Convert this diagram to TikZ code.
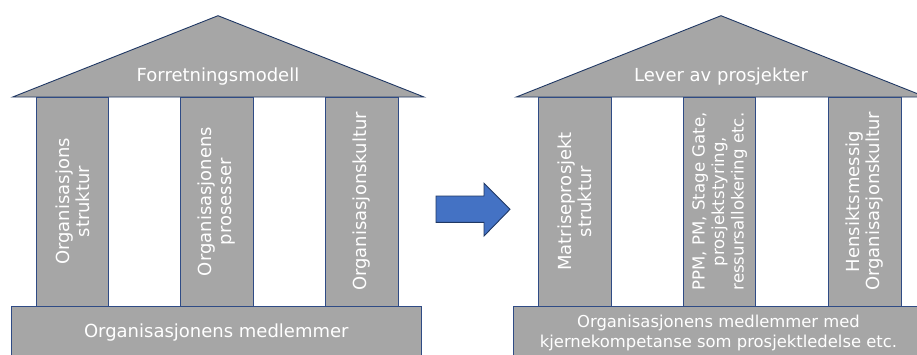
\documentclass[tikz,border=0pt]{standalone}
\usepackage{fontspec}
\setmainfont{DejaVu Sans}
\definecolor{stone}{HTML}{A6A6A6}
\definecolor{edge}{HTML}{2F4B85}
\definecolor{arrowfill}{HTML}{4472C4}
\definecolor{arrowedge}{HTML}{203864}
\begin{document}
\begin{tikzpicture}[x=1pt,y=-1pt,
  part/.style={fill=stone,draw=edge,line width=0.9pt},
  label/.style={text=white,font=\fontsize{18}{20}\selectfont,align=center,inner sep=0pt},
  small/.style={text=white,font=\fontsize{16.4}{20}\selectfont,align=center,inner sep=0pt},
  pillar/.style={part,rotate=90,minimum width=209pt,inner sep=0pt}]
\useasboundingbox (0,0) rectangle (917,354);
\clip (0,0) rectangle (917,354);

% left temple
\draw[part,draw=arrowedge] (12.7,97) -- (218,15.7) -- (424,97) -- cycle;
\node[label] (roofL) at (218,77) {Forretningsmodell};
\node[pillar,minimum height=71.3pt,label] (colLa) at (72.3,201.5) {Organisasjons\\struktur};
\node[pillar,minimum height=73pt,label] (colLb) at (216.8,201.5) {Organisasjonens\\prosesser};
\node[pillar,minimum height=72.6pt,label] (colLc) at (362,201.5) {Organisasjonskultur};
\draw[part] (11,306) rectangle (421.7,358);
\node[label] (baseL) at (216.3,333) {Organisasjonens medlemmer};

% arrow between the temples
\draw[fill=arrowfill,draw=arrowedge,line width=0.9pt]
  (436,196) -- (484,196) -- (484,183.3) -- (510,209.3) -- (484,236) -- (484,222.3) -- (436,222.3) -- cycle;

% right temple
\draw[part,draw=arrowedge] (516.3,97) -- (721,15.7) -- (925.7,97) -- cycle;
\node[label] (roofR) at (721,77) {Lever av prosjekter};
\node[pillar,minimum height=72.6pt,label] (colRa) at (575,201.5) {Matriseprosjekt\\struktur};
\node[pillar,minimum height=72pt,small,font=\fontsize{16.6}{19.5}\selectfont] (colRb) at (719.7,201.5) {PPM, PM, Stage Gate,\\prosjektstyring,\\ressursallokering etc.};
\node[pillar,minimum height=72.3pt,label] (colRc) at (864.8,201.5) {Hensiktsmessig\\Organisasjonskultur};
\draw[part] (513,306) rectangle (930,358);
\node[small] (baseR) at (718.5,333) {Organisasjonens medlemmer med\\kjernekompetanse som prosjektledelse etc.};
\end{tikzpicture}
\end{document}
